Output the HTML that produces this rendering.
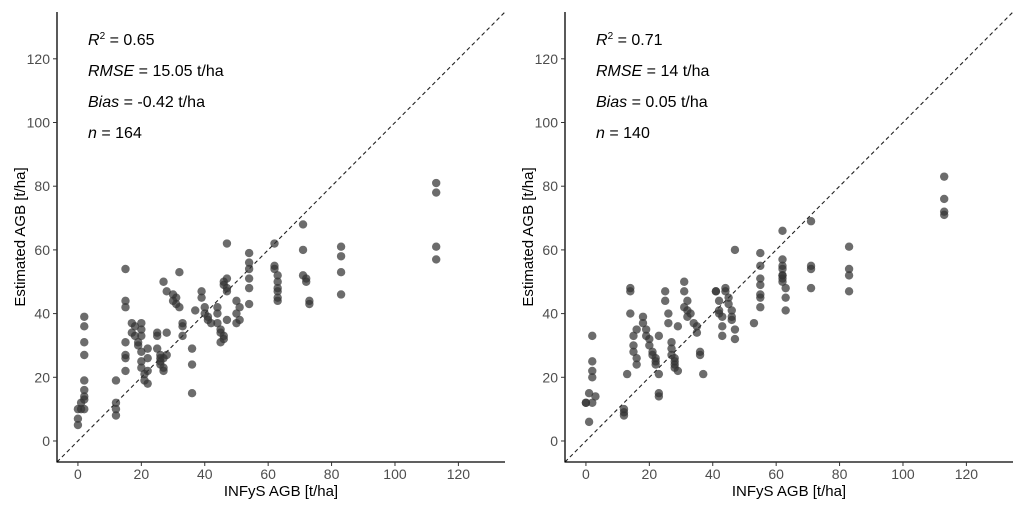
<!DOCTYPE html>
<html><head><meta charset="utf-8"><style>
body{margin:0;background:#fff;}
svg{display:block;font-family:"Liberation Sans",sans-serif;}
</style></head><body>
<svg id="chart" width="1024" height="509"></svg>
<script>
const tickValues=[0,20,40,60,80,100,120];
const leftX=[
0,0,0, 1,1, 2,2,2,2,2,2,2,2,2,
12,12,12,12, 15,15,15,15,15,15,15,
17,17, 18,18, 19,19, 20,20,20,20,20,20, 21,21, 22,22,22,22,
25,25,25, 26,26,26,26, 27,27,27,27, 28,28,28,
30,30, 31,31, 32,32, 33,33,33, 36,36,36, 37,
39,39, 40,40, 41,41, 42, 44,44,44, 45,45,45, 46,46,46,46, 47,47,47, 47,47,
50,50,50, 51,51, 54,54,54,54,54,54,
62,62,62, 63,63,63,63,63,63, 71,71,71, 72,72, 73,73,
83,83,83,83, 113,113,113,113];
const leftY=[
5,7,10, 12,10, 39,36,31,27,19,16,14,13,10,
8,10,12,19, 54,44,42,31,26,27,22,
37,34, 33,36, 31,30, 28,25,23,37,35,33, 21,19, 18,22,29,26,
34,33,29, 27,26,25,24, 23,22,26,50, 27,34,47,
44,46, 43,45, 53,42, 36,37,33, 29,24,15, 41,
47,45, 42,40, 39,38, 37, 42,40,37, 35,34,31, 32,33,49,50, 51,48,62, 47,38,
44,40,37, 42,38, 51,54,56,59,48,43,
62,55,54, 52,50,48,47,45,44, 68,60,52, 51,50, 44,43,
61,58,53,46, 81,78,61,57];
const rightX=[
0,0, 1,1, 2,2,2,2,2, 3,
12,12,12, 13, 14,14,14, 15,15,15, 16,16,16,
18,18, 19,19, 20,20, 21,21, 22,22,22, 23,23,23,23,
25,25, 26,26, 27,27,27, 28,28,28,28, 29,29,
31,31,31, 32,32,32, 33, 34, 35,35, 36,36, 37,
41,41, 42,42,42, 43,43,43, 44,44, 45,45, 46,46,46, 47,47,47,
53, 55,55,55,55,55,55,55,
62,62,62,62,62,62,62,62, 63,63,63,
71,71,71,71, 83,83,83,83, 113,113,113,113];
const rightY=[
12,12, 15,6, 33,25,22,20,12, 14,
10,9,8, 21, 48,47,40, 33,30,28, 26,24,35,
39,37, 35,33, 32,30, 28,27, 26,25,24, 14,15,21,33,
47,44, 40,37, 31,29,27, 26,25,24,23, 22,36,
42,50,47, 44,41,39, 40, 37, 36,34, 28,27, 21,
47,47, 44,41,40, 39,36,33, 48,47, 45,43, 41,39,38, 35,32,60,
37, 59,55,51,49,46,45,42,
66,57,55,54,52,51,50,52, 48,45,41,
69,55,54,48, 61,54,52,47, 83,76,72,71];
const labelsL=["0.65","15.05 t/ha","-0.42 t/ha","164"];
const labelsR=["0.71","14 t/ha","0.05 t/ha","140"];
const NS="http://www.w3.org/2000/svg";
const svg=document.getElementById('chart');
const dmin=-6.6,dmax=134.7;
function mk(tag,attrs,parent){const e=document.createElementNS(NS,tag);for(const k in attrs)e.setAttribute(k,attrs[k]);(parent||svg).appendChild(e);return e;}
function panel(x0,xs,ys,labels,id){
  const x1=x0+448,y0=12,y1=462;
  const sx=v=>x0+(v-dmin)/(dmax-dmin)*(x1-x0);
  const sy=v=>y1-(v-dmin)/(dmax-dmin)*(y1-y0);
  const g=mk('g',{});
  
  
  const diag=mk('line',{x1:sx(dmin),y1:sy(dmin),x2:sx(dmax),y2:sy(dmax),stroke:'#222','stroke-width':1.1,'stroke-dasharray':'4,3'},g);
  
  
  const n=Math.min(xs.length,ys.length);
  for(let i=0;i<n;i++){
    const c=mk('circle',{cx:sx(xs[i]),cy:sy(ys[i]),r:4.2,fill:'#333','fill-opacity':0.72},g);
    
    
  }
  const ax=mk('line',{x1:x0,y1:y0,x2:x0,y2:y1+0.5,stroke:'#000','stroke-width':1.3},g);
  
  
  const ay=mk('line',{x1:x0,y1:y1,x2:x1,y2:y1,stroke:'#000','stroke-width':1.3},g);
  
  
  tickValues.forEach(t=>{
    mk('line',{x1:sx(t),y1:y1,x2:sx(t),y2:y1+4,stroke:'#333'},g);
    const tx=mk('text',{x:sx(t),y:y1+17,'text-anchor':'middle','font-size':14,fill:'#4d4d4d'},g);
    tx.textContent=t;
    
    
    mk('line',{x1:x0-4,y1:sy(t),x2:x0,y2:sy(t),stroke:'#333'},g);
    const ty=mk('text',{x:x0-7,y:sy(t)+5,'text-anchor':'end','font-size':14,fill:'#4d4d4d'},g);
    ty.textContent=t;
    
    
  });
  const xt=mk('text',{x:(x0+x1)/2,y:496,'text-anchor':'middle','font-size':15},g);
  xt.textContent='INFyS AGB [t/ha]';
  
  
  const yt=mk('text',{x:0,y:0,'text-anchor':'middle','font-size':15,transform:`translate(${x0-32},${(y0+y1)/2}) rotate(-90)`},g);
  yt.textContent='Estimated AGB [t/ha]';
  
  
  const names=['R','RMSE','Bias','n'];
  const ann=mk('text',{x:x0+31,y:45,'font-size':16},g);
  
  
  names.forEach((nm,i)=>{
    const t=mk('tspan',{x:x0+31,y:45+i*31,'font-style':'italic'},ann);t.textContent=nm;
    if(i===0){const s=mk('tspan',{'font-size':10,dy:-6},ann);s.textContent='2';const r=mk('tspan',{dy:6},ann);r.textContent=' = '+labels[i];}
    else{const r=mk('tspan',{},ann);r.textContent=' = '+labels[i];}
  });
}
panel(57,leftX,leftY,labelsL,'left');
panel(565,rightX,rightY,labelsR,'right');
</script>
</body></html>
